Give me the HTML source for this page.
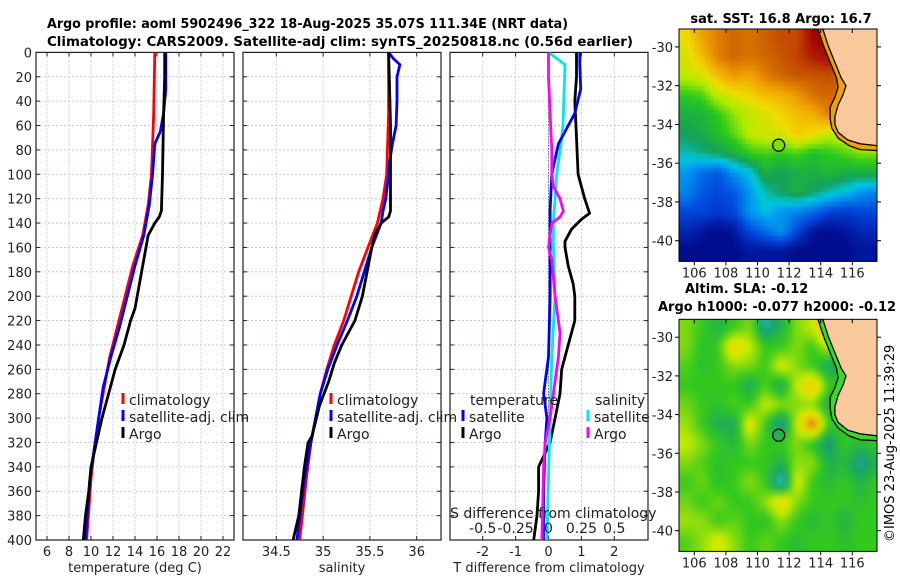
<!DOCTYPE html>
<html><head><meta charset="utf-8"><style>
html,body{margin:0;padding:0;background:#fff;width:900px;height:580px;overflow:hidden}
svg{display:block;font-family:"DejaVu Sans","Liberation Sans",sans-serif}
</style></head><body>
<svg id="fig" width="900" height="580" viewBox="0 0 900 580">
<defs>
<clipPath id="clipT"><rect x="36" y="52.4" width="198" height="487.6"/></clipPath>
<clipPath id="clipS"><rect x="243" y="52.4" width="198" height="487.6"/></clipPath>
<clipPath id="clipD"><rect x="450" y="52.4" width="198" height="487.6"/></clipPath>
<clipPath id="clipM1"><rect x="679" y="29" width="198" height="232.4"/></clipPath>
<clipPath id="clipM2"><rect x="679" y="319.3" width="198" height="232.1"/></clipPath>
<filter id="blur1" x="-10%" y="-10%" width="120%" height="120%"><feGaussianBlur stdDeviation="0.8"/></filter>
<filter id="blur2" x="-10%" y="-10%" width="120%" height="120%"><feGaussianBlur stdDeviation="2.5"/></filter>
</defs>
<text x="47" y="28" font-size="13" font-weight="bold" textLength="521" lengthAdjust="spacingAndGlyphs">Argo profile: aoml 5902496_322 18-Aug-2025 35.07S 111.34E (NRT data)</text>
<text x="47" y="46" font-size="13" font-weight="bold" textLength="586" lengthAdjust="spacingAndGlyphs">Climatology: CARS2009. Satellite-adj clim: synTS_20250818.nc (0.56d earlier)</text>
<text x="781" y="23" font-size="13" font-weight="bold" text-anchor="middle">sat. SST: 16.8 Argo: 16.7</text>
<text x="685" y="293" font-size="13" font-weight="bold">Altim. SLA: -0.12</text>
<text x="658" y="311" font-size="13" font-weight="bold">Argo h1000: -0.077 h2000: -0.12</text>
<text transform="translate(894,542) rotate(-90)" font-size="13">©IMOS 23-Aug-2025 11:39:29</text>
<g id="g"></g>
</svg>
<script>
// ---- profile data ----
const depthTicks=[0,20,40,60,80,100,120,140,160,180,200,220,240,260,280,300,320,340,360,380,400];
const tempTicks=[6,8,10,12,14,16,18,20,22];
const salTicks=[34.5,35,35.5,36];
const salTickLabels=["34.5","35","35.5","36"];
const dtTicks=[-2,-1,0,1,2];
const dsTicks=[-0.5,-0.25,0,0.25,0.5];
const dsTickLabels=["-0.5","-0.25","0","0.25","0.5"];

const climTDepth=[0,50,100,125,150,175,200,225,250,275,300,325,350,375,400];
const climTVal=[15.8,15.7,15.5,15.2,14.7,13.8,13.1,12.4,11.7,11.2,10.7,10.3,10.0,9.8,9.6];
const satTDepth=[0,30,50,65,75,100,125,150,175,200,225,250,275,300,325,350,375,400];
const satTVal=[16.8,16.8,16.6,16.3,15.8,15.6,15.3,14.8,14.0,13.3,12.6,11.8,11.1,10.7,10.3,9.9,9.7,9.5];
const argoTDepth=[0,20,50,100,130,135,140,150,160,180,200,210,220,240,260,280,300,320,340,360,380,400];
const argoTVal=[16.7,16.7,16.6,16.5,16.4,16.2,15.8,15.2,15.0,14.6,14.2,14.0,13.6,13.0,12.2,11.6,11.0,10.5,10.0,9.8,9.5,9.3];

const climSDepth=[0,50,100,120,140,160,180,200,220,240,260,280,300,320,350,400];
const climSVal=[35.70,35.70,35.68,35.64,35.58,35.48,35.38,35.30,35.22,35.12,35.04,34.97,34.92,34.87,34.82,34.75];
const satSDepth=[0,5,10,20,40,60,75,90,100,120,130,140,160,180,200,220,240,260,280,300,320,350,400];
const satSVal=[35.70,35.75,35.82,35.79,35.79,35.78,35.74,35.71,35.70,35.67,35.64,35.62,35.52,35.44,35.36,35.26,35.15,35.05,34.97,34.92,34.87,34.80,34.72];
const argoSDepth=[0,30,60,100,130,135,140,150,160,180,200,220,240,255,270,290,300,315,320,340,360,380,400];
const argoSVal=[35.70,35.71,35.72,35.72,35.72,35.70,35.62,35.55,35.52,35.47,35.42,35.34,35.20,35.12,35.06,34.96,34.93,34.88,34.84,34.80,34.77,34.74,34.68];

const dSatTDepth=[0,10,30,50,65,75,100,130,150,200,250,270,280,300,320,360,400];
const dSatTVal=[0.95,0.95,0.98,0.8,0.5,0.3,0.1,0.05,0.05,0.05,0,-0.1,-0.15,-0.05,-0.1,-0.15,-0.15];
const dArgoTDepth=[0,20,40,70,100,120,132,137,145,155,160,175,190,200,220,240,260,280,300,320,340,360,380,400];
const dArgoTVal=[0.85,0.85,0.8,0.85,0.9,1.1,1.25,1.0,0.7,0.5,0.5,0.6,0.75,0.8,0.8,0.6,0.4,0.35,0.2,0.05,-0.3,-0.3,-0.35,-0.45];
const dSatSDepth=[0,10,60,75,100,120,140,160,200,250,300,350,400];
const dSatSVal=[0,0.125,0.11,0.095,0.0625,0.05,0.0375,0.0375,0.05,0.025,0.0125,0,-0.0125];
const dArgoSDepth=[0,20,50,80,100,110,120,130,135,140,150,160,170,200,230,250,280,300,320,340,400];
const dArgoSVal=[0,0,0.0125,0.025,0.025,0.0375,0.0875,0.1125,0.0875,0.025,0.0125,0,0.025,0.05,0.0875,0.075,0.0375,0.0125,-0.025,-0.0375,-0.05];

// ---- map data (grid cells, lon 105..117, lat -29..-41, 1 degree) ----
const sstGrid=[
[.65,.75,.8,.84,.82,.85,.87,.87,.95,.96,.9,.9,.9],
[.62,.7,.8,.84,.82,.84,.86,.88,.92,.94,.88,.85,.85],
[.6,.62,.7,.76,.74,.8,.84,.86,.86,.87,.85,.8,.8],
[.5,.52,.6,.63,.66,.7,.72,.76,.82,.84,.82,.8,.8],
[.45,.46,.5,.56,.6,.62,.66,.7,.72,.8,.8,.8,.8],
[.42,.44,.48,.53,.6,.62,.62,.68,.65,.6,.62,.7,.75],
[.38,.4,.42,.45,.5,.52,.5,.52,.48,.5,.52,.55,.55],
[.3,.25,.22,.3,.35,.45,.42,.45,.45,.47,.45,.45,.45],
[.28,.22,.2,.22,.3,.38,.42,.45,.42,.38,.35,.3,.28],
[.2,.2,.18,.2,.3,.35,.3,.28,.25,.2,.18,.2,.2],
[.15,.12,.1,.12,.2,.25,.3,.2,.12,.1,.12,.15,.15],
[.1,.1,.1,.1,.12,.12,.12,.1,.1,.1,.1,.12,.12]];
const slaGrid=[
[.55,.5,.45,.5,.55,.36,.45,.55,.6,.78,.5,.5,.5],
[.55,.48,.5,.67,.6,.5,.5,.55,.5,.6,.43,.5,.5],
[.52,.48,.5,.55,.55,.5,.62,.55,.5,.42,.4,.5,.5],
[.5,.5,.5,.5,.42,.52,.42,.6,.7,.5,.5,.5,.5],
[.54,.5,.48,.52,.5,.6,.56,.55,.55,.44,.5,.5,.5],
[.57,.5,.43,.42,.64,.5,.35,.6,.77,.5,.5,.5,.5],
[.6,.55,.5,.46,.55,.5,.5,.55,.48,.38,.5,.46,.5],
[.55,.52,.48,.5,.5,.5,.44,.56,.56,.44,.46,.37,.44],
[.5,.54,.48,.5,.56,.5,.32,.62,.5,.46,.5,.44,.5],
[.54,.5,.54,.5,.5,.56,.67,.55,.5,.5,.5,.48,.5],
[.57,.56,.5,.53,.5,.48,.56,.5,.46,.5,.44,.5,.5],
[.52,.56,.62,.56,.5,.53,.5,.47,.5,.5,.48,.5,.5]];
const coastLon=[114.1,114.5,115.0,115.3,115.6,115.4,115.1,114.9,114.9,115.1,115.7,116.5,117.6];
const coastLat=[-29.0,-30,-31,-31.6,-32.0,-32.5,-33.0,-33.6,-34.0,-34.4,-34.8,-35.0,-35.1];
const shelfLon=[113.8,114.2,114.7,115.0,115.1,114.9,114.6,114.6,114.7,115.1,115.8,116.5,117.6];
const shelfLat=[-29.0,-30,-31,-31.6,-32.1,-32.6,-33.1,-33.7,-34.2,-34.7,-35.1,-35.3,-35.35];
const argoLon=111.34, argoLat=-35.07;
const lonTicks=[106,108,110,112,114,116];
const latTicks=[-30,-32,-34,-36,-38,-40];

// ---- scales ----
const Y0=52.4, YK=1.219;
const yD=d=>Y0+d*YK;
const xT=t=>47+(t-6)*11;
const xS=s=>276.3+(s-34.5)*93.6;
const xDT=t=>548.5+t*32.9;
const xDS=s=>548.5+s*4*32.9;
const mLon=l=>694.3+(l-106)*15.8;
const m1Lat=l=>46.9+(-30-l)*19.38;
const m2Lat=l=>337.2+(-30-l)*19.35;

const NS='http://www.w3.org/2000/svg';
const G=document.getElementById('g');
function mk(tag,attrs,parent){const e=document.createElementNS(NS,tag);for(const k in attrs)e.setAttribute(k,attrs[k]);(parent||G).appendChild(e);return e;}
function txt(x,y,s,size,anchor,parent){const e=mk('text',{x:x,y:y,'font-size':size,'text-anchor':anchor||'start',fill:'#222'},parent);e.textContent=s;return e;}

function panel(name,x0,xs,ticks,labels,xlabel,clip,drawYLabels){
  const g=mk('g',{});
  
  
  ticks.forEach(t=>{const l=mk('line',{x1:xs(t),x2:xs(t),y1:Y0,y2:540,stroke:'#b8c0dc','stroke-width':0.8,'stroke-dasharray':'2,2'},g);
    });
  depthTicks.forEach(d=>{const l=mk('line',{x1:x0,x2:x0+198,y1:yD(d),y2:yD(d),stroke:'#b8c0dc','stroke-width':0.8,'stroke-dasharray':'2,2'},g);
    
    mk('line',{x1:x0,x2:x0+4,y1:yD(d),y2:yD(d),stroke:'#222'},g);mk('line',{x1:x0+198,x2:x0+194,y1:yD(d),y2:yD(d),stroke:'#222'},g);
    if(drawYLabels){const e=txt(32,yD(d)+5,String(d),13,'end',g);}
  });
  ticks.forEach((t,i)=>{mk('line',{x1:xs(t),x2:xs(t),y1:540,y2:536,stroke:'#222'},g);mk('line',{x1:xs(t),x2:xs(t),y1:Y0,y2:Y0+4,stroke:'#222'},g);
    const e=txt(xs(t),556,labels[i],13,'middle',g);});
  const xl=txt(x0+99,572,xlabel,13,'middle',g);
  
  const f=mk('rect',{x:x0,y:Y0,width:198,height:487.6,fill:'none',stroke:'#222','stroke-width':1.2},g);
  
  return g;
}
function line(name,ds,vs,xs,color,clip,w){
  const pts=ds.map((d,i)=>xs(vs[i]).toFixed(1)+','+yD(d).toFixed(1)).join(' ');
  const p=mk('polyline',{points:pts,fill:'none',stroke:color,'stroke-width':w||2.8,'stroke-linejoin':'round','clip-path':'url(#'+clip+')'});
  
  
}
function legendItem(name,x,y,color,label){
  const g=mk('g',{});
  
  
  mk('rect',{x:x-1.5,y:y-12,width:3,height:11,fill:color},g);
  txt(x+6,y,label,14,'start',g);
}

panel('temperature-panel',36,xT,tempTicks,tempTicks.map(String),'temperature (deg C)','clipT',true);
panel('salinity-panel',243,xS,salTicks,salTickLabels,'salinity','clipS',false);
panel('difference-panel',450,xDT,dtTicks,dtTicks.map(String),'T difference from climatology','clipD',false);

line('temp-climatology-line',climTDepth,climTVal,xT,'#ff0000','clipT');
line('temp-satellite-line',satTDepth,satTVal,xT,'#0000ff','clipT');
line('temp-argo-line',argoTDepth,argoTVal,xT,'#000000','clipT');
line('sal-climatology-line',climSDepth,climSVal,xS,'#ff0000','clipS');
line('sal-satellite-line',satSDepth,satSVal,xS,'#0000ff','clipS');
line('sal-argo-line',argoSDepth,argoSVal,xS,'#000000','clipS');

const zl=mk('line',{x1:548.5,x2:548.5,y1:Y0,y2:540,stroke:'#333','stroke-width':1,'stroke-dasharray':'1,2'});


line('dT-argo-line',dArgoTDepth,dArgoTVal,xDT,'#000000','clipD');
line('dS-satellite-line',dSatSDepth,dSatSVal,xDS,'#00e8e8','clipD');
line('dT-satellite-line',dSatTDepth,dSatTVal,xDT,'#0000ff','clipD');
line('dS-argo-line',dArgoSDepth,dArgoSVal,xDS,'#ff00ff','clipD');

legendItem('legend-climatology',123,405,'#ff0000','climatology');
legendItem('legend-satellite-adj',123,422,'#0000ff','satellite-adj. clim');
legendItem('legend-argo',123,439,'#000000','Argo');
legendItem('legend-sal-climatology',331,405,'#ff0000','climatology');
legendItem('legend-sal-satellite-adj',331,422,'#0000ff','satellite-adj. clim');
legendItem('legend-sal-argo',331,439,'#000000','Argo');
let e=txt(470,405,'temperature',14,'start');
legendItem('legend-dT-satellite',463,422,'#0000ff','satellite');
legendItem('legend-dT-argo',463,439,'#000000','Argo');
e=txt(595,405,'salinity',14,'start');
legendItem('legend-dS-satellite',588,422,'#00e8e8','satellite');
legendItem('legend-dS-argo',588,439,'#ff00ff','Argo');
e=txt(450,518,'S difference from climatology',14,'start');
dsTicks.forEach((s,i)=>{const t=txt(xDS(s),533,dsTickLabels[i],14,'middle');});

// ---- maps ----
function cmap(v,stops){
  for(let i=1;i<stops.length;i++){if(v<=stops[i][0]){const a=stops[i-1],b=stops[i];const f=(v-a[0])/(b[0]-a[0]);
    const c=[0,1,2].map(k=>Math.round(a[1][k]+(b[1][k]-a[1][k])*f));return 'rgb('+c.join(',')+')';}}
  const l=stops[stops.length-1][1];return 'rgb('+l.join(',')+')';
}
const sstStops=[[0,[0,0,120]],[0.1,[0,10,140]],[0.2,[0,70,220]],[0.3,[0,150,240]],[0.36,[0,200,220]],[0.42,[20,160,90]],[0.5,[40,200,30]],[0.58,[170,235,0]],[0.65,[240,220,0]],[0.75,[240,160,0]],[0.85,[205,95,0]],[0.95,[165,0,0]],[1,[140,0,0]]];
const slaStops=[[0,[0,150,255]],[0.33,[40,210,220]],[0.4,[25,160,110]],[0.5,[50,200,30]],[0.6,[205,235,0]],[0.66,[240,215,0]],[0.75,[220,110,10]],[1,[180,40,0]]];

function sample(grid,lon,lat){
  // bilinear interpolation between cell centres
  const rows=grid.length,cols=grid[0].length;
  let fc=lon-105.5, fr=-29.5-lat;
  fc=Math.max(0,Math.min(cols-1,fc)); fr=Math.max(0,Math.min(rows-1,fr));
  const c0=Math.floor(fc),r0=Math.floor(fr),c1=Math.min(cols-1,c0+1),r1=Math.min(rows-1,r0+1);
  const a=fc-c0,b=fr-r0;
  return grid[r0][c0]*(1-a)*(1-b)+grid[r0][c1]*a*(1-b)+grid[r1][c0]*(1-a)*b+grid[r1][c1]*a*b;
}
function drawMap(name,grid,stops,yLat,clip,blur,top,bottom,landStrip,step){
  const g=mk('g',{});
  
  
  const cg=mk('g',{'clip-path':'url(#'+clip+')'},g);
  const inner=mk('g',{filter:'url(#'+blur+')'},cg);
  for(let lat=-28.5;lat>-41.6;lat-=step)for(let lon=104.5;lon<118;lon+=step){
    const x=mLon(lon),y=yLat(lat);const w=mLon(lon+step)-x,h=yLat(lat-step)-y;
    const v=sample(grid,lon+step/2,lat-step/2);
    const cell=mk('rect',{x:x.toFixed(1),y:y.toFixed(1),width:(w+0.5).toFixed(1),height:(h+0.5).toFixed(1),fill:cmap(v,stops)},inner);
    
    
  }
  const shelf=shelfLon.map((l,i)=>mLon(l).toFixed(1)+','+yLat(shelfLat[i]).toFixed(1));
  const coast=coastLon.map((l,i)=>mLon(l).toFixed(1)+','+yLat(coastLat[i]).toFixed(1));
  mk('polygon',{points:shelf.join(' ')+' 880,'+bottom+' 880,'+top,fill:landStrip},cg);
  const land=mk('polygon',{points:coast.join(' ')+' 880,'+yLat(-35.1)+' 880,'+top,fill:'#f9c99b'},cg);
  
  
  mk('polyline',{points:shelf.join(' '),fill:'none',stroke:'#000','stroke-width':1.3},cg);
  mk('polyline',{points:coast.join(' '),fill:'none',stroke:'#000','stroke-width':1.3},cg);
  const cx=mLon(argoLon),cy=yLat(argoLat);
  const m=mk('circle',{cx:cx,cy:cy,r:6,fill:cmap(sample(grid,argoLon,argoLat),stops),stroke:'#000','stroke-width':1.3},g);
  
  
  const f=mk('rect',{x:679,y:top,width:198,height:bottom-top,fill:'none',stroke:'#000','stroke-width':1},g);
  
  latTicks.forEach(l=>{const y=yLat(l);mk('line',{x1:877,x2:881,y1:y,y2:y,stroke:'#000'},g);mk('line',{x1:679,x2:675,y1:y,y2:y,stroke:'#000'},g);
    const t=txt(673,y+5,String(l),13,'end',g);});
  lonTicks.forEach(l=>{const x=mLon(l);mk('line',{x1:x,x2:x,y1:bottom,y2:bottom+4,stroke:'#000'},g);mk('line',{x1:x,x2:x,y1:top,y2:top+4,stroke:'#000'},g);
    const t=txt(x,bottom+16,String(l),13,'middle',g);});
}
drawMap('sst-map',sstGrid,sstStops,m1Lat,'clipM1','blur1',29,261.4,'#f0a000',0.25);
drawMap('sla-map',slaGrid,slaStops,m2Lat,'clipM2','blur2',319.3,551.4,'#33dd22',0.25);
</script>
</body></html>
